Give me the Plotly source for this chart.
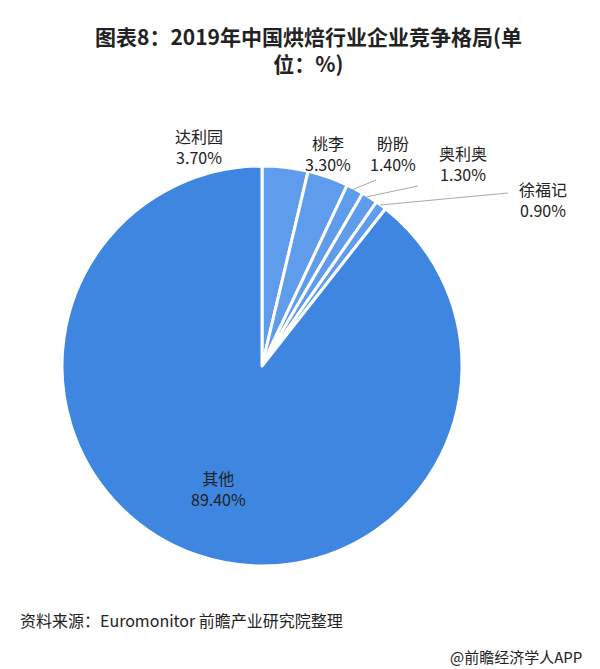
import plotly.graph_objects as go

labels = ["达利园", "桃李", "盼盼", "奥利奥", "徐福记", "其他"]
values = [3.7, 3.3, 1.4, 1.3, 0.9, 89.4]
colors = ["#5f9cec", "#5f9cec", "#5f9cec", "#5f9cec", "#5f9cec", "#3f86e0"]

W, H = 600, 669

fig = go.Figure(go.Pie(
    labels=labels, values=values, sort=False, direction="clockwise", rotation=0,
    marker=dict(colors=colors, line=dict(color="white", width=3)),
    textinfo="none", hoverinfo="label+value",
    domain=dict(x=[34 / W, 474 / W], y=[1 - 558 / H, 1 - 158 / H]),
    showlegend=False,
))

def px_ann(x, y, text, xanchor="center", size=16, **kw):
    fig.add_annotation(x=x / W, y=1 - y / H, xref="paper", yref="paper", text=text,
                       showarrow=False, xanchor=xanchor, yanchor="middle",
                       font=dict(size=size, color="#222"), **kw)

# slice labels
label_pos = [(191, 138), (320, 145), (385, 145), (455, 155), (535, 192), (210, 480)]
for (x, y), lab, v in zip(label_pos, labels, values):
    px_ann(x, y, f"{lab}<br>{v:.2f}%")

# leader lines
for x0, y0, x1, y1 in [(344, 182, 368, 172), (358, 189, 410, 178), (372, 197, 500, 185)]:
    fig.add_shape(type="line", x0=x0 / W, y0=1 - y0 / H, x1=x1 / W, y1=1 - y1 / H,
                  xref="paper", yref="paper", line=dict(color="#aaa", width=1))

fig.add_annotation(x=0.5, y=1 - 42 / H, xref="paper", yref="paper", showarrow=False,
                   text="<b>图表8：2019年中国烘焙行业企业竞争格局(单<br>位：%)</b>",
                   font=dict(size=21, color="#222"), align="center", yanchor="middle")
px_ann(10, 612, "资料来源：Euromonitor 前瞻产业研究院整理", xanchor="left", size=16)
px_ann(440, 648, "@前瞻经济学人APP", xanchor="left", size=15)

fig.update_layout(width=W, height=H, margin=dict(l=0, r=0, t=0, b=0),
                  paper_bgcolor="white", font=dict(family="Noto Sans CJK SC"))
fig.write_html("out.html")
